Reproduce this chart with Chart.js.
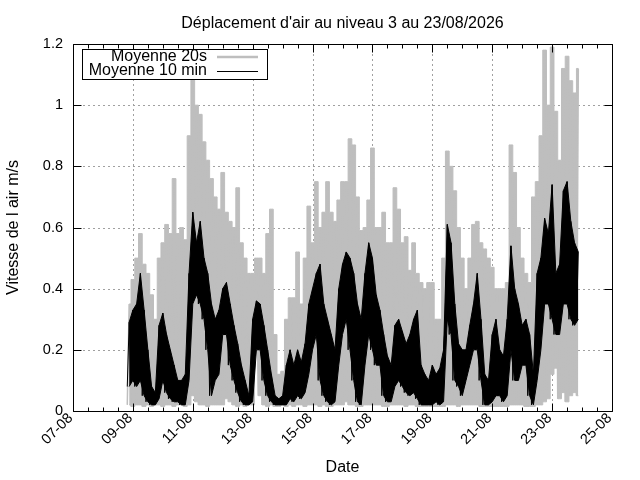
<!DOCTYPE html>
<html>
<head>
<meta charset="utf-8">
<script src="https://cdn.jsdelivr.net/npm/chart.js@4.4.1/dist/chart.umd.min.js"></script>
<style>
html, body { margin: 0; padding: 0; background: #fff; }
#wrap { width: 640px; height: 480px; }
</style>
</head>
<body>
<div id="wrap"><canvas id="my-chart" width="640" height="480"></canvas></div>
<script>
// heures depuis le 07-08 00h00 ; premier point le 08-08 vers 21h, un pas toutes les 3 h
const startHour = 45;
const stepHours = 3;

// Moyenne 20s : haut et bas de la bande par pas de 3 h (m/s)
const gHi = [0.35,0.43,0.5,0.58,0.48,0.45,0.38,0.3,0.5,0.55,
  0.61,0.58,0.76,0.58,0.6,0.56,0.9,1.1,1.0,0.97,
  0.88,0.82,0.76,0.7,0.66,0.78,0.65,0.62,0.6,0.73,
  0.55,0.5,0.45,0.45,0.5,0.5,0.45,0.58,0.66,0.25,
  0.12,0.13,0.3,0.37,0.37,0.52,0.35,0.5,0.67,0.55,
  0.75,0.6,0.65,0.75,0.65,0.62,0.69,0.75,0.75,0.89,
  0.87,0.7,0.59,0.6,0.69,0.86,0.6,0.6,0.65,0.55,
  0.55,0.73,0.66,0.55,0.57,0.46,0.55,0.45,0.42,0.4,
  0.42,0.42,0.3,0.3,0.5,0.85,0.8,0.72,0.6,0.5,
  0.4,0.5,0.61,0.62,0.55,0.53,0.5,0.47,0.4,0.4,
  0.4,0.42,0.87,0.78,0.6,0.5,0.45,0.42,0.7,0.75,
  0.9,1.18,1.0,1.19,0.98,0.82,1.12,1.16,1.08,1.04,1.12];
const gLo = [0.02,0.015,0.02,0.02,0.015,0.02,0.015,0.02,0.02,0.015,
  0.02,0.02,0.015,0.02,0.02,0.015,0.02,0.05,0.03,0.02,
  0.02,0.015,0.02,0.02,0.02,0.02,0.04,0.03,0.02,0.015,
  0.02,0.015,0.02,0.02,0.2,0.05,0.02,0.015,0.02,0.015,
  0.015,0.02,0.015,0.02,0.015,0.02,0.02,0.015,0.02,0.02,
  0.02,0.015,0.02,0.015,0.015,0.02,0.02,0.02,0.03,0.02,
  0.02,0.015,0.015,0.02,0.02,0.02,0.02,0.02,0.015,0.015,
  0.02,0.02,0.02,0.02,0.015,0.02,0.02,0.015,0.015,0.015,
  0.015,0.015,0.015,0.015,0.015,0.02,0.02,0.02,0.015,0.02,
  0.02,0.02,0.02,0.02,0.015,0.015,0.015,0.015,0.015,0.015,
  0.015,0.015,0.02,0.02,0.02,0.02,0.015,0.015,0.015,0.02,
  0.02,0.03,0.04,0.12,0.14,0.04,0.06,0.03,0.05,0.06,0.05];

// Moyenne 10 min : haut et bas par pas de 3 h (m/s)
const bHi = [0.29,0.33,0.35,0.45,0.33,0.2,0.08,0.06,0.28,0.32,
  0.25,0.2,0.15,0.1,0.1,0.12,0.45,0.65,0.55,0.62,
  0.5,0.45,0.35,0.3,0.33,0.4,0.42,0.35,0.28,0.22,
  0.15,0.1,0.05,0.3,0.36,0.35,0.28,0.2,0.12,0.05,
  0.04,0.05,0.15,0.2,0.15,0.2,0.16,0.22,0.35,0.4,
  0.45,0.48,0.35,0.3,0.25,0.2,0.4,0.48,0.52,0.5,
  0.45,0.35,0.3,0.45,0.55,0.5,0.38,0.33,0.25,0.18,
  0.15,0.28,0.3,0.26,0.22,0.25,0.3,0.33,0.15,0.12,
  0.1,0.15,0.12,0.14,0.2,0.61,0.55,0.35,0.22,0.2,
  0.2,0.28,0.35,0.45,0.3,0.12,0.1,0.25,0.3,0.2,
  0.18,0.3,0.54,0.4,0.35,0.28,0.3,0.25,0.12,0.45,
  0.5,0.63,0.58,0.74,0.45,0.48,0.72,0.75,0.62,0.55,0.52];
const bLo = [0.08,0.1,0.08,0.1,0.05,0.03,0.02,0.02,0.04,0.1,
  0.06,0.04,0.03,0.03,0.02,0.02,0.1,0.35,0.38,0.35,
  0.3,0.2,0.05,0.1,0.12,0.25,0.25,0.15,0.1,0.06,
  0.03,0.02,0.02,0.03,0.2,0.2,0.1,0.05,0.03,0.02,
  0.02,0.02,0.02,0.04,0.03,0.05,0.04,0.06,0.12,0.2,
  0.25,0.1,0.05,0.03,0.02,0.03,0.15,0.25,0.3,0.2,
  0.1,0.03,0.02,0.15,0.25,0.2,0.15,0.15,0.05,0.03,
  0.03,0.08,0.1,0.08,0.06,0.05,0.06,0.04,0.02,0.02,
  0.02,0.02,0.03,0.02,0.03,0.3,0.25,0.1,0.08,0.05,
  0.1,0.15,0.2,0.2,0.1,0.02,0.02,0.03,0.05,0.05,
  0.03,0.05,0.2,0.1,0.1,0.15,0.15,0.05,0.02,0.1,
  0.2,0.35,0.35,0.3,0.25,0.25,0.35,0.35,0.3,0.28,0.3];

const xTickLabels = ['07-08','09-08','11-08','13-08','15-08','17-08','19-08','21-08','23-08','25-08'];
const yTickLabels = ['0','0.2','0.4','0.6','0.8','1','1.2'];
const seriesNames = ['Moyenne 20s', 'Moyenne 10 min'];
const titleText = "Déplacement d'air au niveau 3 au 23/08/2026";

const FONT = '"Liberation Sans", Arial, sans-serif';
const GRAY = '#bebebe';

function points(vals) {
  return vals.map((v, i) => ({x: startHour + i * stepHours, y: v}));
}
function zigzag(lo, hi) {
  const pts = [];
  for (let i = 0; i < lo.length; i++) {
    const t = startHour + i * stepHours;
    pts.push({x: t - 1.5, y: lo[i]});
    pts.push({x: t, y: hi[i]});
  }
  return pts;
}

const gnuplotFrame = {
  id: 'gnuplotFrame',
  beforeDatasetsDraw(chart) {
    const {ctx, chartArea: a, scales: {x, y}} = chart;
    ctx.save();
    ctx.strokeStyle = '#a0a0a0';
    ctx.lineWidth = 1;
    ctx.setLineDash([2, 3]);
    ctx.beginPath();
    xTickLabels.forEach((l, k) => {
      const px = Math.round(x.getPixelForValue(k * 48)) + 0.5;
      ctx.moveTo(px, a.top); ctx.lineTo(px, a.bottom);
    });
    yTickLabels.forEach(l => {
      const py = Math.round(y.getPixelForValue(Number(l))) + 0.5;
      ctx.moveTo(a.left, py); ctx.lineTo(a.right, py);
    });
    ctx.stroke();
    ctx.restore();
  },
  afterDatasetsDraw(chart) {
    const {ctx, chartArea: a, scales: {x, y}} = chart;
    const L = Math.round(a.left) + 0.5, R = Math.round(a.right) + 0.5;
    const T = Math.round(a.top) + 0.5, B = Math.round(a.bottom) + 0.5;
    ctx.save();
    ctx.strokeStyle = '#000';
    ctx.lineWidth = 1;
    ctx.setLineDash([]);
    ctx.beginPath();
    ctx.rect(L, T, R - L, B - T);
    // graduations x : majeures tous les 2 jours, mineures toutes les 12 h
    for (let h = 0; h <= 432; h += 12) {
      const px = Math.round(x.getPixelForValue(h)) + 0.5;
      const len = h % 48 === 0 ? 8 : 4;
      ctx.moveTo(px, B); ctx.lineTo(px, B - len);
      ctx.moveTo(px, T); ctx.lineTo(px, T + len);
    }
    yTickLabels.forEach(l => {
      const py = Math.round(y.getPixelForValue(Number(l))) + 0.5;
      ctx.moveTo(L, py); ctx.lineTo(L + 8, py);
      ctx.moveTo(R, py); ctx.lineTo(R - 8, py);
    });
    ctx.stroke();

    ctx.fillStyle = '#000';
    ctx.font = '14.5px ' + FONT;
    ctx.textAlign = 'right';
    ctx.textBaseline = 'middle';
    yTickLabels.forEach(l => {
      ctx.fillText(l, a.left - 10, y.getPixelForValue(Number(l)));
    });
    xTickLabels.forEach((l, k) => {
      const px = x.getPixelForValue(k * 48);
      ctx.save();
      ctx.translate(px - 2.5, a.bottom + 5);
      ctx.rotate(-Math.PI / 4);
      ctx.fillText(l, 0, 0);
      ctx.restore();
    });

    ctx.font = '16px ' + FONT;
    ctx.textAlign = 'center';
    ctx.textBaseline = 'alphabetic';
    const cx = (a.left + a.right) / 2;
    ctx.fillText(titleText, cx, 27.5);
    ctx.fillText('Date', cx, 471.5);
    ctx.save();
    ctx.translate(18, (a.top + a.bottom) / 2);
    ctx.rotate(-Math.PI / 2);
    ctx.fillText('Vitesse de l air m/s', 0, 0);
    ctx.restore();

    // cartouche de légende
    ctx.fillStyle = '#fff';
    ctx.fillRect(82.5, 49.5, 185, 30);
    ctx.strokeRect(82.5, 49.5, 185, 30);
    ctx.fillStyle = '#000';
    ctx.textAlign = 'right';
    ctx.textBaseline = 'middle';
    ctx.fillText(seriesNames[0], 207, 57);
    ctx.fillText(seriesNames[1], 207, 71);
    ctx.strokeStyle = GRAY;
    ctx.lineWidth = 2.5;
    ctx.beginPath(); ctx.moveTo(217, 57); ctx.lineTo(258, 57); ctx.stroke();
    ctx.strokeStyle = '#000';
    ctx.lineWidth = 1;
    ctx.beginPath(); ctx.moveTo(217, 71.5); ctx.lineTo(258, 71.5); ctx.stroke();
    ctx.restore();
  }
};

const ctx = document.querySelector('#my-chart');
new Chart(ctx, {
  type: 'line',
  data: {
    datasets: [{
      label: seriesNames[1],
      data: zigzag(bLo, bHi),
      borderColor: '#000',
      borderWidth: 1
    }, {
      label: seriesNames[1] + ' haut',
      data: points(bHi),
      borderColor: '#000',
      borderWidth: 1,
      backgroundColor: '#000',
      fill: '+1'
    }, {
      label: seriesNames[1] + ' bas',
      data: points(bLo),
      borderColor: '#000',
      borderWidth: 1
    }, {
      label: seriesNames[0],
      data: zigzag(gLo, gHi),
      borderColor: GRAY,
      borderWidth: 1.5
    }, {
      label: seriesNames[0] + ' haut',
      data: points(gHi),
      stepped: 'middle',
      borderColor: GRAY,
      borderWidth: 1,
      backgroundColor: GRAY,
      fill: '+1'
    }, {
      label: seriesNames[0] + ' bas',
      data: points(gLo),
      stepped: 'middle',
      borderColor: GRAY,
      borderWidth: 1
    }]
  },
  options: {
    responsive: false,
    animation: false,
    devicePixelRatio: 1,
    layout: { padding: { left: 0, right: 28, top: 44, bottom: 0 } },
    elements: { point: { radius: 0 }, line: { tension: 0, fill: false } },
    plugins: { legend: { display: false }, tooltip: { enabled: false }, title: { display: false } },
    scales: {
      x: {
        type: 'linear', min: 0, max: 432,
        ticks: { display: false }, grid: { display: false }, border: { display: false },
        afterFit(s) { s.height = 69; }
      },
      y: {
        min: 0, max: 1.2,
        ticks: { display: false }, grid: { display: false }, border: { display: false },
        afterFit(s) { s.width = 73; }
      }
    }
  },
  plugins: [gnuplotFrame]
});
</script>
</body>
</html>
